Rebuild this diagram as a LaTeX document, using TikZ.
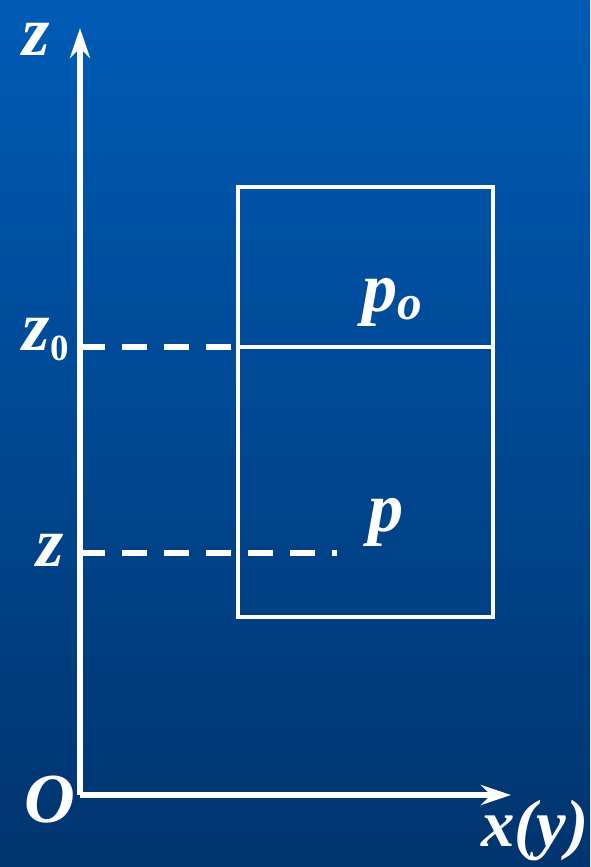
\documentclass[tikz,border=0pt]{standalone}
\usepackage{fontspec}
\setmainfont{Liberation Serif}
\usetikzlibrary{arrows.meta}
\definecolor{bgtop}{RGB}{0,91,181}
\definecolor{bgbot}{RGB}{0,52,110}
\begin{document}
	\begin{tikzpicture}
		[axis/.style={white,line width=3.4pt,-{Stealth[length=0.6cm,width=0.4cm,inset=0.2cm]}},
		box/.style={white,line width=2.8pt},
		level/.style={white,line width=3.8pt,dash pattern=on 0.5cm off 0.34cm},
		lab/.style={white,inner sep=0pt,font=\fontsize{40}{44}\selectfont\bfseries\itshape},]
		\useasboundingbox[top color=bgtop,bottom color=bgbot] (0,0) rectangle (11.8,17.34);
		\coordinate(O) at (1.6,1.44);
		\coordinate(ztip) at (1.6,16.78);
		\coordinate(xtip) at (10.22,1.44);
		\draw[axis](O)--(ztip);
		\draw[axis](O)--(xtip);
		\draw[box](4.76,5.0) rectangle (9.86,13.6);
		\coordinate(z0a) at (1.6,10.4);
		\coordinate(z0b) at (4.76,10.4);
		\coordinate(z0c) at (9.86,10.4);
		\coordinate(za) at (1.6,6.28);
		\coordinate(zb) at (6.74,6.28);
		\draw[level](z0a)--(z0b);
		\draw[white,line width=2.2pt](z0b)--(z0c);
		\draw[level](za)--(zb);
		\node[lab](zlab) at (0.72,16.55){z};
		\node[lab,anchor=east](z0lab) at (1.4,10.55){z{\fontsize{30}{32}\selectfont\upshape$_{\mathbf{0}}$}};
		\node[lab](zlev) at (1.0,6.34){z};
		\node[lab](olab) at (1.0,1.34){O};
		\node[lab,font=\fontsize{38}{42}\selectfont\bfseries\itshape](xlab) at (10.7,0.72){x(y)};
		\node[lab](polab) at (7.86,11.3){p\textsubscript{o}};
		\node[lab](plab) at (7.72,6.9){p};
	\end{tikzpicture}
\end{document}
